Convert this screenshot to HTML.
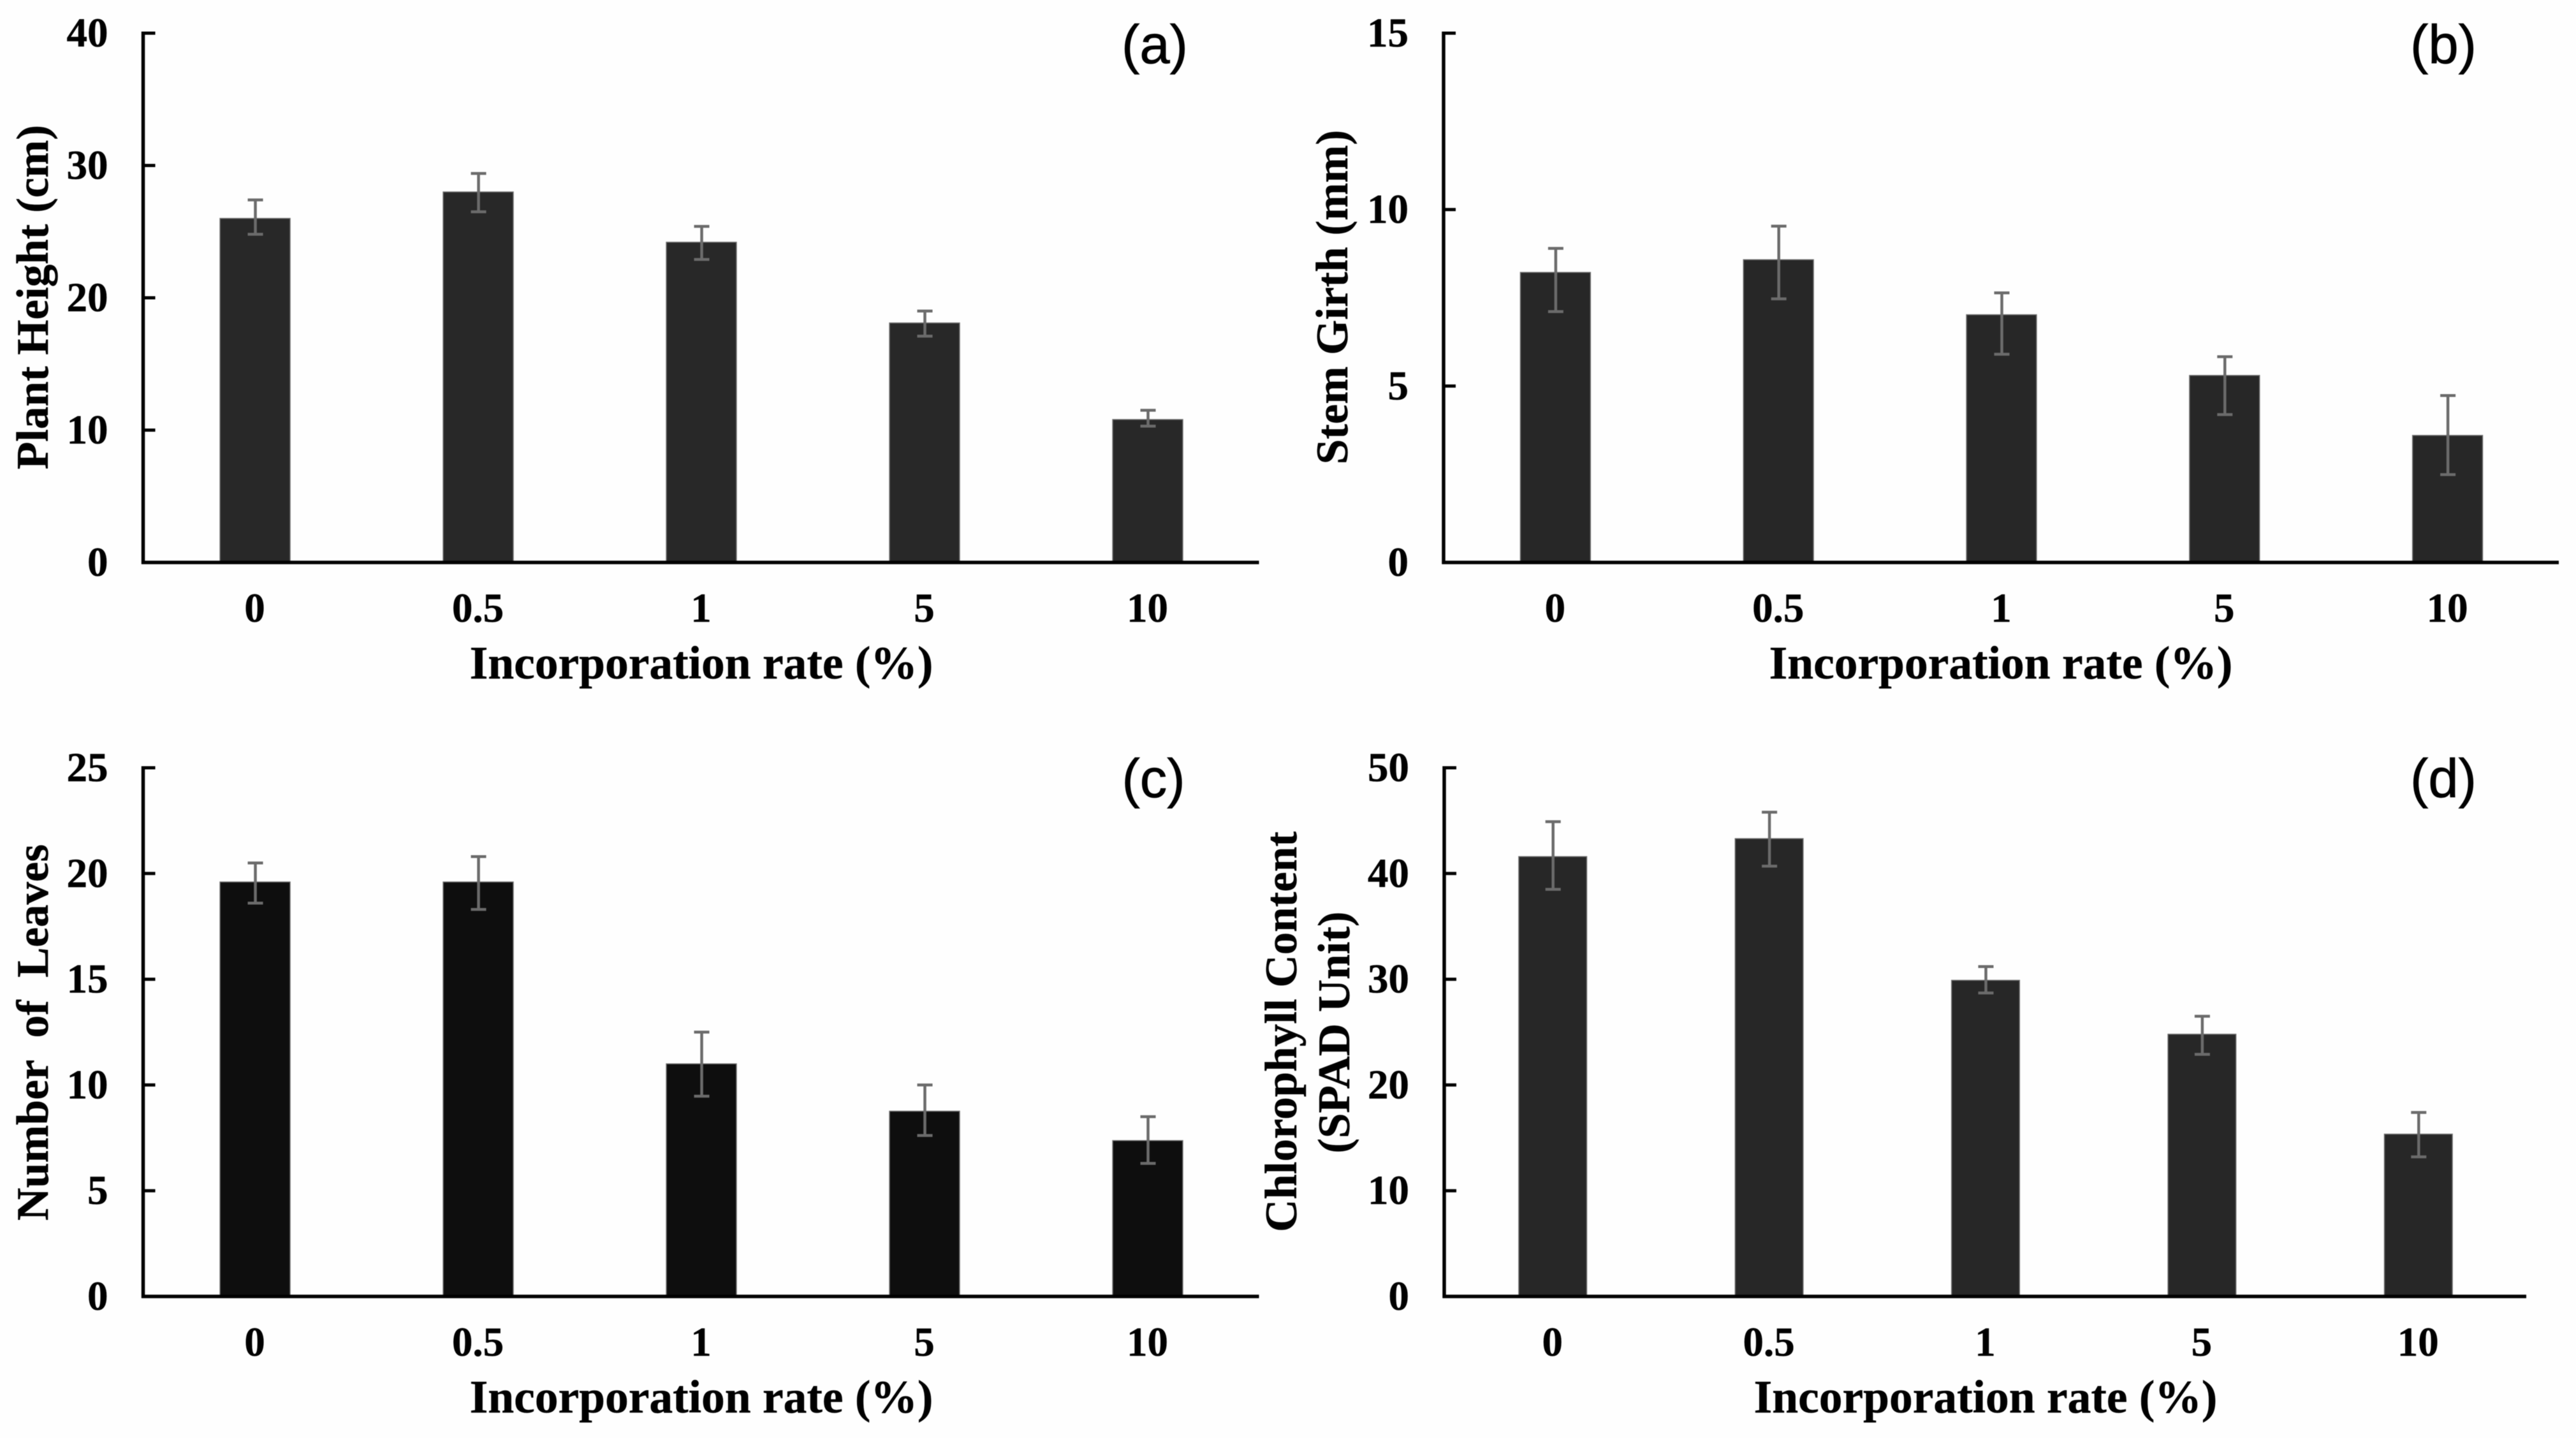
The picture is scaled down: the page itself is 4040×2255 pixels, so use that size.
<!DOCTYPE html>
<html lang="en">
<head>
<meta charset="utf-8">
<title>Growth parameters by incorporation rate</title>
<style>
  html, body { margin: 0; padding: 0; background: #fefefe; }
  svg { display: block; filter: blur(0.6px); }
  text { fill: #000; }
  .serif { font-family: "Liberation Serif", serif; font-weight: bold; stroke: #000; stroke-width: 0.5px; }
  .tick { font-size: 65px; }
  .xtitle { font-size: 73.5px; text-anchor: middle; }
  .ytitle { font-size: 71px; text-anchor: middle; white-space: pre; }
  .tag { font-family: "Liberation Sans", sans-serif; font-size: 85px; text-anchor: middle; stroke: #000; stroke-width: 0.8px; }
</style>
</head>
<body>
<svg id="figure" xmlns="http://www.w3.org/2000/svg" width="4040" height="2255" viewBox="0 0 4040 2255">
  <rect x="0" y="0" width="4040" height="2255" fill="#fefefe"/>

  <g id="panel-a">
    <text class="serif ytitle" transform="translate(75 466) rotate(-90)">Plant Height (cm)</text>
    <text class="serif xtitle" x="1100" y="1064">Incorporation rate (%)</text>
    <text class="tag" x="1811" y="99">(a)</text>
  </g>
  <g id="panel-b">
    <text class="serif ytitle" transform="translate(2113 466) rotate(-90)">Stem Girth (mm)</text>
    <text class="serif xtitle" x="3138" y="1064">Incorporation rate (%)</text>
    <text class="tag" x="3832" y="99">(b)</text>
  </g>
  <g id="panel-c">
    <text class="serif ytitle" xml:space="preserve" transform="translate(75 1619) rotate(-90)">Number  of  Leaves</text>
    <text class="serif xtitle" x="1100" y="2215">Incorporation rate (%)</text>
    <text class="tag" x="1809" y="1250">(c)</text>
  </g>
  <g id="panel-d">
    <text class="serif ytitle" transform="translate(2033 1618) rotate(-90)">Chlorophyll Content</text>
    <text class="serif ytitle" transform="translate(2116 1619) rotate(-90)">(SPAD Unit)</text>
    <text class="serif xtitle" x="3114" y="2215">Incorporation rate (%)</text>
    <text class="tag" x="3832" y="1250">(d)</text>
  </g>
</svg>

<script>
// ---- data ----
const categories = ['0', '0.5', '1', '5', '10'];

const heightValues  = [26.0, 28.0, 24.2, 18.1, 10.8];
const heightErrHigh = [27.4, 29.4, 25.4, 19.0, 11.5];
const heightErrLow  = [24.8, 26.5, 22.9, 17.1, 10.3];
const heightTicks   = [0, 10, 20, 30, 40];

const girthValues  = [8.22, 8.58, 7.02, 5.30, 3.60];
const girthErrHigh = [8.90, 9.53, 7.64, 5.83, 4.73];
const girthErrLow  = [7.11, 7.47, 5.90, 4.19, 2.49];
const girthTicks   = [0, 5, 10, 15];

const leavesValues  = [19.6, 19.6, 11.0, 8.76, 7.37];
const leavesErrHigh = [20.5, 20.8, 12.5, 10.0, 8.50];
const leavesErrLow  = [18.6, 18.3, 9.47, 7.61, 6.29];
const leavesTicks   = [0, 5, 10, 15, 20, 25];

const spadValues  = [41.6, 43.3, 29.9, 24.8, 15.35];
const spadErrHigh = [44.9, 45.8, 31.2, 26.5, 17.4];
const spadErrLow  = [38.5, 40.7, 28.7, 22.9, 13.2];
const spadTicks   = [0, 10, 20, 30, 40, 50];

// ---- drawing ----
const NS = 'http://www.w3.org/2000/svg';
function mk(tag, attrs, parent) {
  const el = document.createElementNS(NS, tag);
  for (const k in attrs) el.setAttribute(k, attrs[k]);
  parent.appendChild(el);
  return el;
}

function drawPanel(id, layout, values, errHigh, errLow, ticks) {
  const g = document.getElementById(id);
  const yMax = ticks[ticks.length - 1];
  const yScale = v => layout.bottom - (v / yMax) * (layout.bottom - layout.top);
  const step = (layout.right - layout.left) / categories.length;
  const xCenter = i => layout.left + (i + 0.5) * step;
  const barWidth = step * 0.314;

  values.forEach((v, i) => {
    const bar = mk('rect', {
      x: xCenter(i) - barWidth / 2 + 0.5, y: yScale(v),
      width: barWidth, height: layout.bottom - yScale(v),
      fill: layout.fill, stroke: '#6e6e6e', 'stroke-width': 1.5
    }, g);
    
    
  });

  values.forEach((v, i) => {
    const cx = xCenter(i) + 1;
    const hi = yScale(errHigh[i]);
    const lo = yScale(errLow[i]);
    const err = mk('path', {
      d: 'M' + cx + ' ' + hi + 'V' + lo +
         'M' + (cx - 12) + ' ' + hi + 'H' + (cx + 12) +
         'M' + (cx - 12) + ' ' + lo + 'H' + (cx + 12),
      stroke: '#6b6b6b', 'stroke-width': 4.5, fill: 'none'
    }, g);
    
    
  });

  const yAxis = mk('line', {
    x1: layout.left, x2: layout.left,
    y1: layout.top - 2.5, y2: layout.bottom + 2.5,
    stroke: '#000', 'stroke-width': 5.5
  }, g);
  
  

  const xAxis = mk('line', {
    x1: layout.left - 2.5, x2: layout.right,
    y1: layout.bottom, y2: layout.bottom,
    stroke: '#000', 'stroke-width': 5.5
  }, g);
  
  

  ticks.forEach(t => {
    const y = yScale(t);
    if (t !== 0) {
      const tickMark = mk('line', {
        x1: layout.left, x2: layout.left + 19, y1: y, y2: y,
        stroke: '#000', 'stroke-width': 5
      }, g);
      
      
    }
    const label = mk('text', {
      class: 'serif tick', x: layout.left - 55, y: y + 21, 'text-anchor': 'end'
    }, g);
    label.textContent = String(t);
    
    
  });

  categories.forEach((c, i) => {
    const label = mk('text', {
      class: 'serif tick', x: xCenter(i), y: layout.bottom + 93, 'text-anchor': 'middle'
    }, g);
    label.textContent = c;
    
    
  });
}

drawPanel('panel-a', { left: 224.5, right: 1974.5, top: 52, bottom: 882, fill: '#282828' },
  heightValues, heightErrHigh, heightErrLow, heightTicks);
drawPanel('panel-b', { left: 2264, right: 4013, top: 52, bottom: 882, fill: '#272727' },
  girthValues, girthErrHigh, girthErrLow, girthTicks);
drawPanel('panel-c', { left: 224.5, right: 1974.5, top: 1204, bottom: 2033, fill: '#0e0e0e' },
  leavesValues, leavesErrHigh, leavesErrLow, leavesTicks);
drawPanel('panel-d', { left: 2265, right: 3962, top: 1204, bottom: 2033, fill: '#272727' },
  spadValues, spadErrHigh, spadErrLow, spadTicks);
</script>
</body>
</html>
